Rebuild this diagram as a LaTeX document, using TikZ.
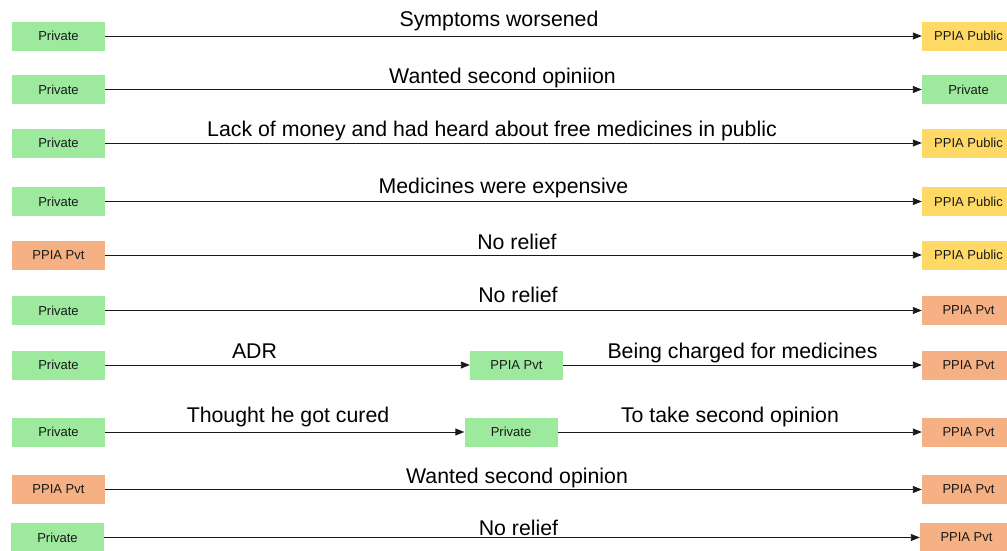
\documentclass[tikz,border=0pt]{standalone}
\usepackage{fontspec}
\setmainfont{Liberation Sans}
\usetikzlibrary{arrows.meta}
\definecolor{cpriv}{HTML}{9DEA9F}
\definecolor{cpvt}{HTML}{F5B183}
\definecolor{cpub}{HTML}{FFD966}
\tikzset{
  box/.style={minimum width=93pt, minimum height=29pt, inner sep=0pt, text=black!90,
    font=\fontsize{13}{15}\selectfont},
  priv/.style={box, fill=cpriv},
  pvt/.style={box, fill=cpvt},
  pub/.style={box, fill=cpub},
  lbl/.style={anchor=base, inner sep=0pt, font=\fontsize{21.3}{25}\selectfont},
  conn/.style={draw=black!90, line width=0.9pt, -{Triangle[length=9pt,width=7pt]}},
}
\begin{document}
\begin{tikzpicture}[x=1pt,y=-1pt]
\clip (0,0) rectangle (1007,550);
\useasboundingbox (0,0) rectangle (1007,550);
% row 1
\node[priv] (l1) at (58.5,36) {Private};
\node[pub]  (r1) at (968.5,36) {PPIA Public};
\draw[conn] (l1) -- (r1);
\node[lbl] (t1) at (499,26.7) {Symptoms worsened};
% row 2
\node[priv] (l2) at (58.5,89.5) {Private};
\node[priv] (r2) at (968.5,89.5) {Private};
\draw[conn] (l2) -- (r2);
\node[lbl] (t2) at (502.5,83.5) {Wanted second opiniion};
% row 3
\node[priv] (l3) at (58.5,143) {Private};
\node[pub]  (r3) at (968.5,143) {PPIA Public};
\draw[conn] (l3) -- (r3);
\node[lbl] (t3) at (492,136) {Lack of money and had heard about free medicines in public};
% row 4
\node[priv] (l4) at (58.5,201.5) {Private};
\node[pub]  (r4) at (968.5,201.5) {PPIA Public};
\draw[conn] (l4) -- (r4);
\node[lbl] (t4) at (503.5,193.5) {Medicines were expensive};
% row 5
\node[pvt] (l5) at (58.5,255) {PPIA Pvt};
\node[pub] (r5) at (968.5,255) {PPIA Public};
\draw[conn] (l5) -- (r5);
\node[lbl] (t5) at (517,249.5) {No relief};
% row 6
\node[priv] (l6) at (58.5,310.5) {Private};
\node[pvt]  (r6) at (968.5,310.5) {PPIA Pvt};
\draw[conn] (l6) -- (r6);
\node[lbl] (t6) at (518,302.5) {No relief};
% row 7
\node[priv] (l7) at (58.5,365) {Private};
\node[priv] (m7) at (516.5,365) {PPIA Pvt};
\node[pvt]  (r7) at (968.5,365) {PPIA Pvt};
\draw[conn] (l7) -- (m7);
\draw[conn] (m7) -- (r7);
\node[lbl] (t7a) at (254.5,358) {ADR};
\node[lbl] (t7b) at (742.5,358) {Being charged for medicines};
% row 8
\node[priv] (l8) at (58.5,432) {Private};
\node[priv] (m8) at (511,432) {Private};
\node[pvt]  (r8) at (968.5,432) {PPIA Pvt};
\draw[conn] (l8) -- (m8);
\draw[conn] (m8) -- (r8);
\node[lbl] (t8a) at (288,422) {Thought he got cured};
\node[lbl] (t8b) at (730,422) {To take second opinion};
% row 9
\node[pvt] (l9) at (58.5,489.5) {PPIA Pvt};
\node[pvt] (r9) at (968.5,489.5) {PPIA Pvt};
\draw[conn] (l9) -- (r9);
\node[lbl] (t9) at (517,483.5) {Wanted second opinion};
% row 10
\node[priv] (l10) at (57.5,537.5) {Private};
\node[pvt]  (r10) at (966.5,537.5) {PPIA Pvt};
\draw[conn] (l10) -- (r10);
\node[lbl] (t10) at (518.5,535.5) {No relief};
\end{tikzpicture}
\end{document}
